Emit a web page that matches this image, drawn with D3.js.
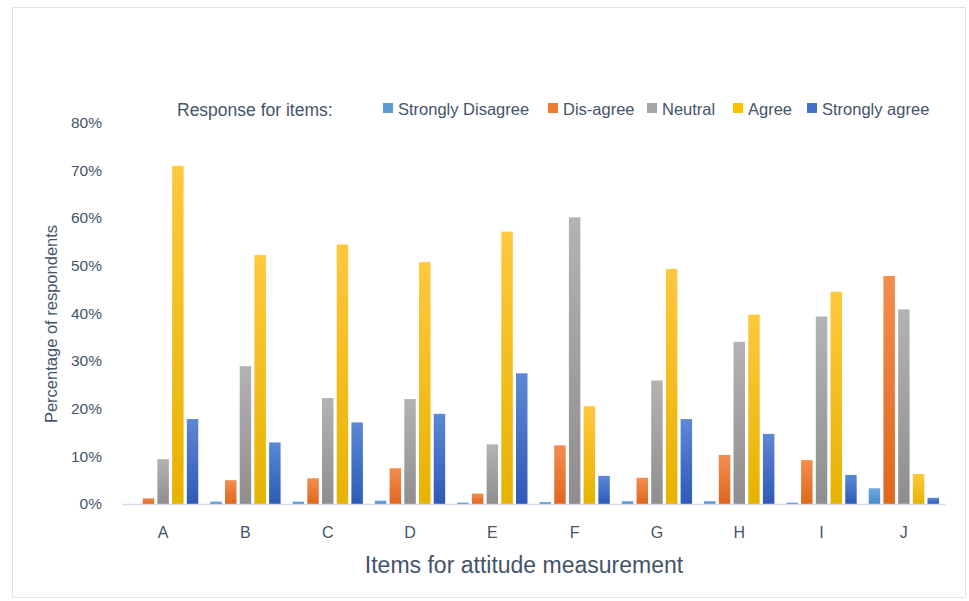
<!DOCTYPE html>
<html><head><meta charset="utf-8">
<script src="https://cdn.jsdelivr.net/npm/d3@7"></script>
<style>
html,body{margin:0;padding:0;background:#fff;}
svg{display:block;font-family:"Liberation Sans",Arial,Helvetica,sans-serif;}
</style></head>
<body>
<svg id="chart" width="969" height="601"></svg>
<script>
const categories = ["A","B","C","D","E","F","G","H","I","J"];
const seriesNames = ["Strongly Disagree","Dis-agree","Neutral","Agree","Strongly agree"];
const stronglyDisagree = [0, 0.5, 0.5, 0.7, 0.3, 0.4, 0.6, 0.6, 0.3, 3.3];
const disagree         = [1.2, 5.0, 5.4, 7.5, 2.2, 12.3, 5.5, 10.3, 9.2, 47.8];
const neutral          = [9.4, 28.9, 22.2, 22.0, 12.5, 60.1, 25.9, 34.0, 39.3, 40.8];
const agree            = [70.9, 52.2, 54.4, 50.7, 57.1, 20.5, 49.3, 39.7, 44.5, 6.3];
const stronglyAgree    = [17.8, 12.9, 17.1, 18.9, 27.4, 5.9, 17.8, 14.7, 6.1, 1.3];
const yTicks = [0,10,20,30,40,50,60,70,80];
const colors = ["#5B9BD5","#ED7D31","#A5A5A5","#FFC000","#4472C4"];
const gradStops = [["#6FAAE2","#4A8ACF"],["#F28E4F","#E0661D"],["#B3B3B3","#8E8E8E"],["#FFC83E","#E6B300"],["#5C88D6","#2D5AB7"]];

const allSeries = [stronglyDisagree, disagree, neutral, agree, stronglyAgree];
const svg = d3.select("#chart");
const textColor = "#44546A";

// frame
svg.append("rect").attr("x",12.5).attr("y",7.5).attr("width",953).attr("height",590)
  .attr("fill","#fff").attr("stroke","#DDE4EC").attr("stroke-width",1);

const defs = svg.append("defs");
gradStops.forEach((g,i)=>{
  const lg = defs.append("linearGradient").attr("id","g"+i).attr("x1",0).attr("y1",0).attr("x2",0).attr("y2",1);
  lg.append("stop").attr("offset","0%").attr("stop-color",g[0]);
  lg.append("stop").attr("offset","100%").attr("stop-color",g[1]);
});

const plotLeft = 122, plotRight = 945, plotTop = 122.4, plotBottom = 504;
const x0 = d3.scaleBand().domain(categories).range([plotLeft,plotRight]).padding(0);
const x1 = d3.scaleBand().domain(d3.range(seriesNames.length))
  .range([4.4, x0.bandwidth()-4.4]).paddingInner(0.22).paddingOuter(0.11);
const y = d3.scaleLinear().domain([0,80]).range([plotBottom, plotTop]);

// y tick labels
const yAxis = d3.axisLeft(y).tickValues(yTicks).tickFormat(d=>d+"%").tickSize(0).tickPadding(0);
const ya = svg.append("g").attr("transform",`translate(${plotLeft-20},0)`).call(yAxis);
ya.select(".domain").remove();
ya.selectAll("text").attr("fill",textColor).style("font-size","15.5px")
  .style("font-family","'Liberation Sans',Arial,sans-serif").attr("dy","0.32em");

// bars
const groups = svg.append("g").selectAll("g").data(categories).join("g")
  .attr("transform",d=>`translate(${x0(d)},0)`);
groups.selectAll("rect").data((d,ci)=>allSeries.map((s,si)=>({si, v:s[ci]})))
  .join("rect")
  .attr("x",d=>x1(d.si)).attr("width",x1.bandwidth())
  .attr("y",d=>y(d.v)).attr("height",d=>plotBottom - y(d.v))
  .attr("fill",d=>`url(#g${d.si})`);

// x axis
const xAxis = d3.axisBottom(x0).tickSize(0).tickPadding(0);
const xa = svg.append("g").attr("transform",`translate(0,${plotBottom})`).call(xAxis);
xa.select(".domain").attr("stroke","#D3DAE6").attr("stroke-width",1.5);
xa.selectAll("text").attr("fill",textColor).style("font-size","16px")
  .style("font-family","'Liberation Sans',Arial,sans-serif").attr("y",23).attr("dy","0.71em");

// axis titles
svg.append("text").attr("x",524).attr("y",573).attr("text-anchor","middle")
  .attr("fill",textColor).style("font-size","23px").text("Items for attitude measurement");
svg.append("text").attr("transform","translate(57,324) rotate(-90)").attr("text-anchor","middle")
  .attr("fill",textColor).style("font-size","16.5px").text("Percentage of respondents");

// legend
svg.append("text").attr("x",177).attr("y",116).attr("fill",textColor)
  .style("font-size","17.5px").text("Response for items:");
const legX = [383, 548, 647, 733, 807];
const leg = svg.append("g").selectAll("g").data(seriesNames).join("g")
  .attr("transform",(d,i)=>`translate(${legX[i]},0)`);
leg.append("rect").attr("x",0).attr("y",103).attr("width",10).attr("height",10)
  .attr("fill",(d,i)=>colors[i]);
leg.append("text").attr("x",15).attr("y",115).attr("fill",textColor)
  .style("font-size","16.5px").text(d=>d);
</script>
</body></html>
